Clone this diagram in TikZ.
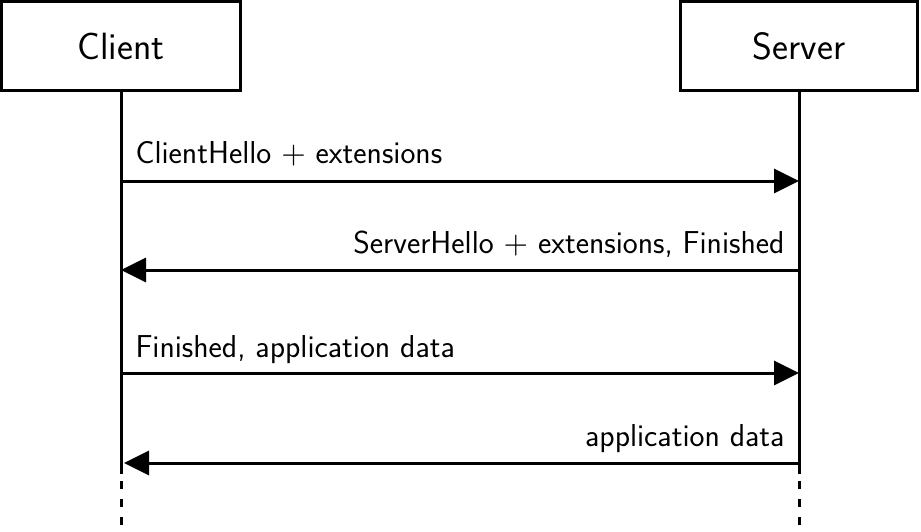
\documentclass[tikz,border=0pt]{standalone}
\usepackage{graphicx}
\usetikzlibrary{arrows.meta}
\newcommand\plussym{{\fontsize{10}{12}\selectfont\scalebox{3.15}{$+$}}}
\begin{document}
\begin{tikzpicture}[x=1pt,y=-1pt, line width=3pt,
  actor/.style={draw, minimum height=89pt, inner sep=0pt, font=\fontsize{38}{44}\selectfont\sffamily},
  msg/.style={-{Triangle[length=25pt,width=24pt]}},
  lbl/.style={inner sep=0pt, font=\fontsize{31.7}{38}\selectfont\sffamily},
  tail/.style={dash pattern=on 8pt off 10pt}]
\useasboundingbox (0,0) rectangle (921,531);
\node[actor, minimum width=239pt] (client) at (121,46) {Client};
\node[actor, minimum width=237pt] (server) at (799,46) {Server};
\coordinate (cend) at (121,474);
\coordinate (send) at (799,474);
\coordinate (cdash) at (121,481);
\coordinate (sdash) at (799,481);
\coordinate (cbot) at (121,527);
\coordinate (sbot) at (799,527);
\draw (client.south) -- (cend);
\draw (server.south) -- (send);
\draw[tail] (cdash) -- (cbot);
\draw[tail] (sdash) -- (sbot);
\coordinate (c1) at (121,181); \coordinate (s1) at (799,181);
\coordinate (c2) at (121,270); \coordinate (s2) at (799,270);
\coordinate (c3) at (121,373); \coordinate (s3) at (799,373);
\coordinate (c4) at (124,463); \coordinate (s4) at (799,463);
\draw[msg] (c1) -- (s1);
\draw[msg] (s2) -- (c2);
\draw[msg] (c3) -- (s3);
\draw[msg] (s4) -- (c4);
\node[lbl, anchor=base west] (l1) at (134,163) {ClientHello \plussym{} extensions};
\node[lbl, anchor=base east] (l2) at (786,253) {ServerHello \plussym{} extensions, Finished};
\node[lbl, anchor=base west] (l3) at (134,357) {Finished, application data};
\node[lbl, anchor=base east] (l4) at (786,446) {application data};
\end{tikzpicture}
\end{document}
